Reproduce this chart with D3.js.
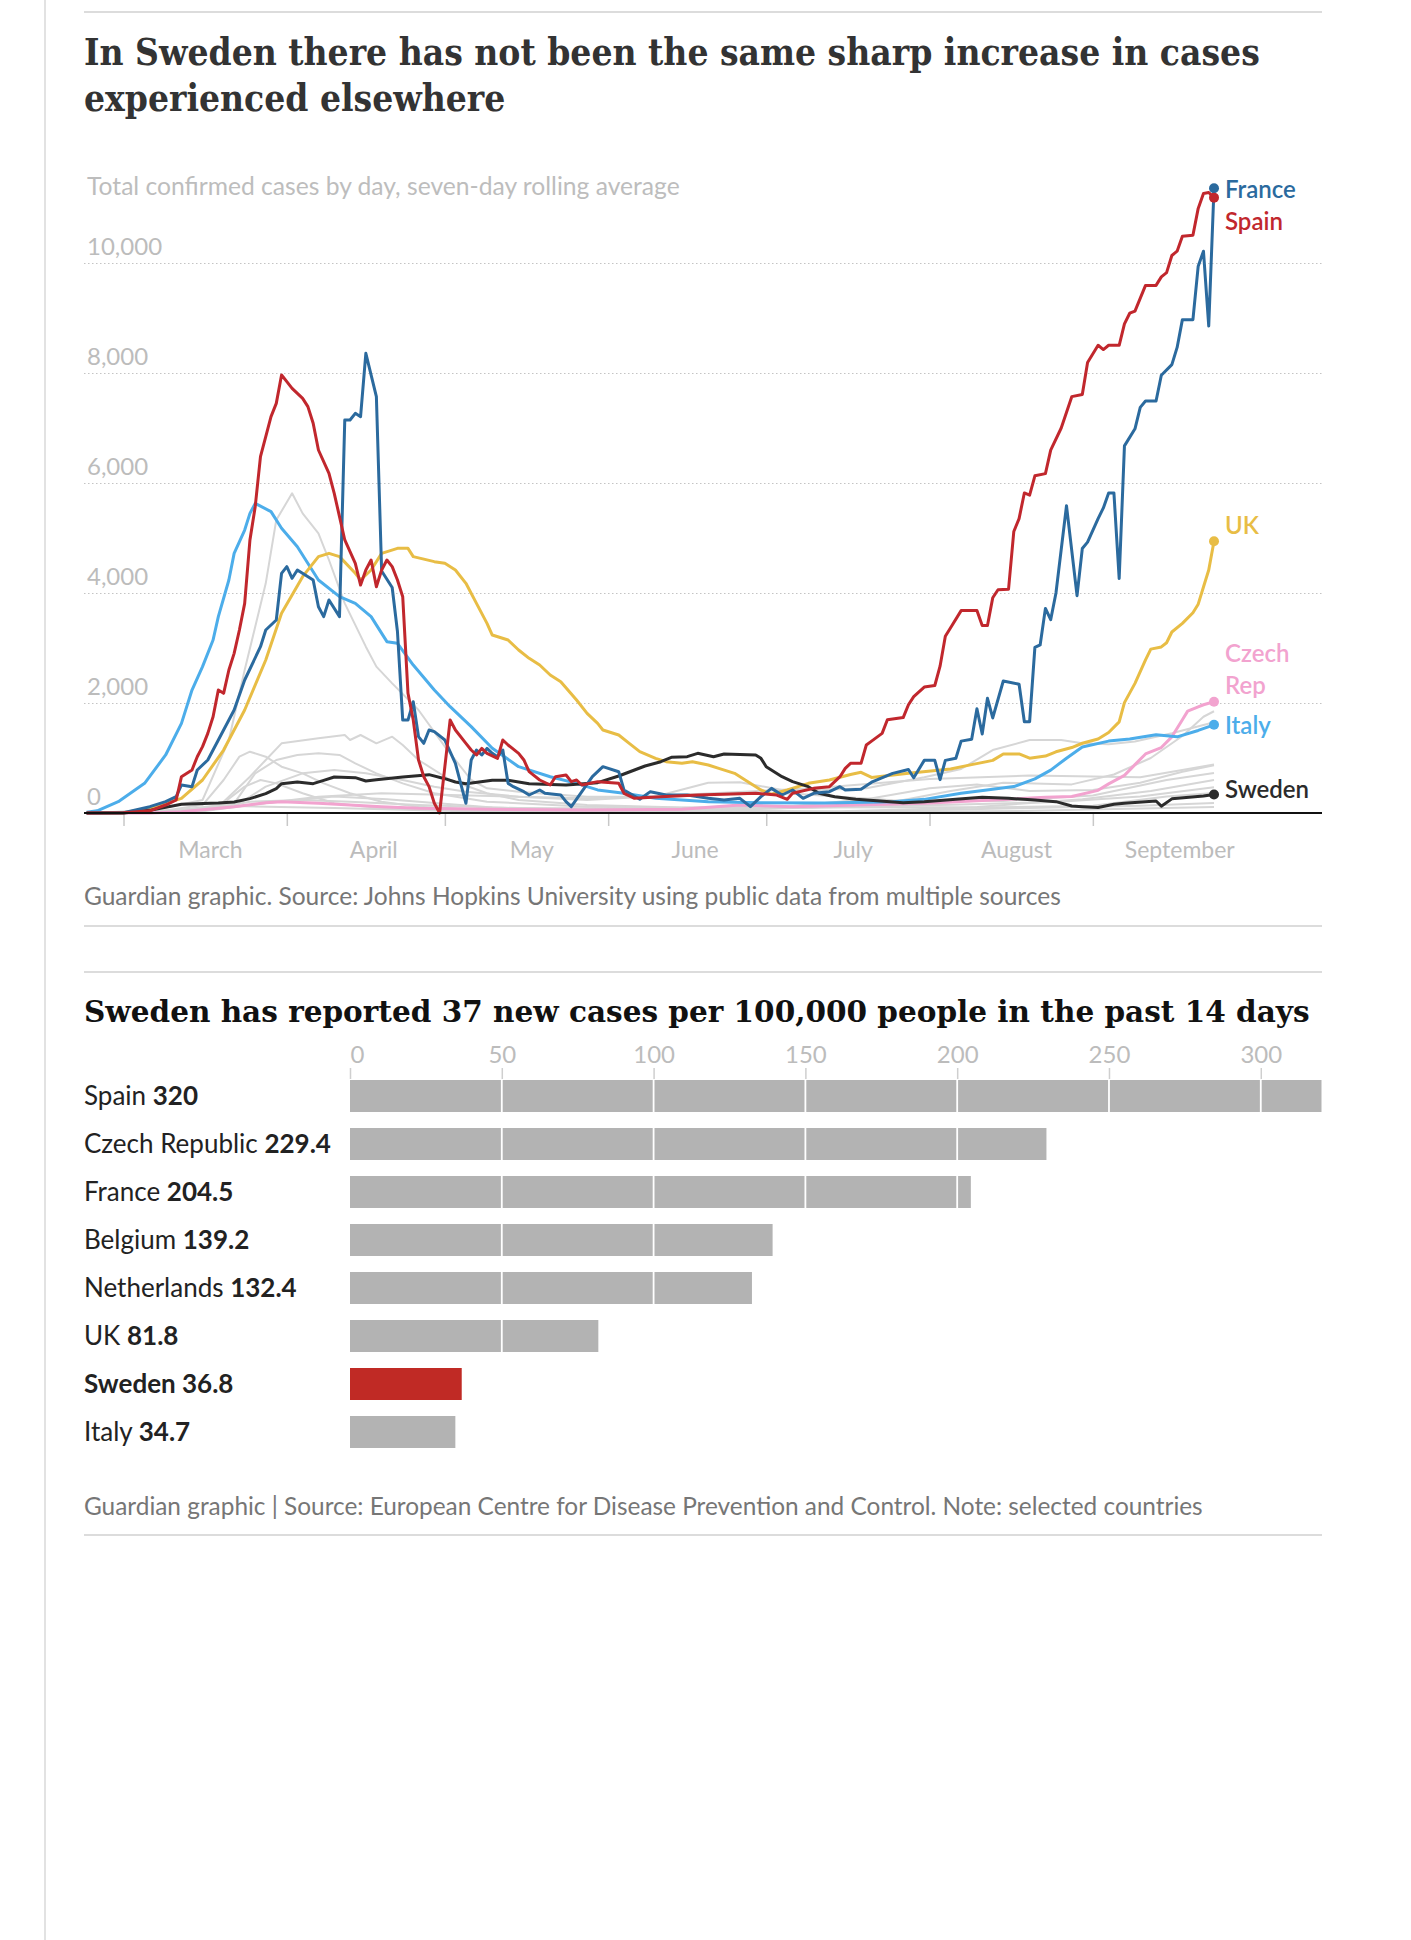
<!DOCTYPE html>
<html><head><meta charset="utf-8">
<script src="https://cdn.jsdelivr.net/npm/d3@7"></script>
<style>body{margin:0;background:#fff} svg{display:block}</style>
</head><body>
<svg id="c" width="1411" height="1940"></svg>
<script>
// ---------------- DATA ----------------
const titleLines = ["In Sweden there has not been the same sharp increase in cases", "experienced elsewhere"];
const subtitle = "Total confirmed cases by day, seven-day rolling average";
const source1 = "Guardian graphic. Source: Johns Hopkins University using public data from multiple sources";
const barTitle = "Sweden has reported 37 new cases per 100,000 people in the past 14 days";
const source2 = "Guardian graphic | Source: European Centre for Disease Prevention and Control. Note: selected countries";

const yTicks = [0, 2000, 4000, 6000, 8000, 10000];
const monthNames = ["March", "April", "May", "June", "July", "August", "September"];

const franceData = [["02-23",0],["03-01",5],["03-06",115],["03-09",206],["03-11",297],["03-12",509],["03-14",479],["03-15",782],["03-17",964],["03-19",1327],["03-22",1873],["03-24",2418],["03-27",3024],["03-28",3327],["03-30",3509],["03-31",4358],["04-01",4479],["04-02",4267],["04-03",4418],["04-06",4236],["04-07",3751],["04-08",3570],["04-09",3873],["04-11",3570],["04-12",7145],["04-13",7145],["04-14",7267],["04-15",7206],["04-16",8358],["04-18",7570],["04-19",4400],["04-21",4100],["04-22",3300],["04-23",1690],["04-24",1690],["04-25",2024],["04-26",1388],["04-27",1267],["04-28",1509],["04-29",1479],["05-01",1327],["05-03",903],["05-04",539],["05-05",176],["05-06",964],["05-07",1145],["05-08",1055],["05-09",1176],["05-10",1085],["05-11",1024],["05-12",1145],["05-13",539],["05-14",479],["05-16",388],["05-17",327],["05-19",418],["05-20",358],["05-23",327],["05-24",206],["05-25",115],["05-29",661],["05-31",842],["06-03",751],["06-04",418],["06-07",249],["06-09",388],["06-12",327],["06-16",327],["06-20",267],["06-23",236],["06-26",267],["06-28",115],["06-30",297],["07-02",448],["07-04",327],["07-06",418],["07-08",267],["07-10",358],["07-13",388],["07-15",479],["07-16",418],["07-19",430],["07-21",560],["07-25",721],["07-28",790],["07-29",640],["07-31",957],["08-02",957],["08-03",607],["08-04",957],["08-06",996],["08-07",1307],["08-09",1340],["08-10",1895],["08-11",1436],["08-12",2085],["08-13",1728],["08-15",2400],["08-18",2340],["08-19",1660],["08-20",1660],["08-21",3010],["08-22",3056],["08-23",3720],["08-24",3515],["08-25",4000],["08-27",5586],["08-29",3952],["08-30",4808],["08-31",4925],["09-02",5353],["09-03",5547],["09-04",5819],["09-05",5819],["09-06",4263],["09-07",6675],["09-09",6986],["09-10",7375],["09-11",7492],["09-13",7492],["09-14",7959],["09-16",8153],["09-17",8465],["09-18",8970],["09-20",8970],["09-21",9943],["09-22",10215],["09-23",8854],["09-24",11359]];

const spainData = [["02-23",0],["03-01",5],["03-06",40],["03-09",145],["03-11",236],["03-12",660],["03-14",782],["03-15",1024],["03-16",1206],["03-17",1448],["03-18",1751],["03-19",2236],["03-20",2176],["03-21",2600],["03-22",2903],["03-23",3327],["03-24",3812],["03-25",4964],["03-26",5570],["03-27",6479],["03-28",6842],["03-29",7206],["03-30",7448],["03-31",7964],["04-01",7842],["04-02",7721],["04-04",7539],["04-05",7388],["04-06",7085],["04-07",6600],["04-09",6176],["04-10",5812],["04-11",5388],["04-12",4964],["04-14",4539],["04-15",4145],["04-16",4418],["04-17",4600],["04-18",4115],["04-19",4418],["04-20",4600],["04-21",4479],["04-22",4236],["04-23",3933],["04-24",2176],["04-25",1691],["04-26",964],["04-27",660],["04-28",479],["04-29",176],["04-30",0],["05-01",842],["05-02",1691],["05-03",1509],["05-05",1267],["05-06",1145],["05-07",1055],["05-08",1176],["05-09",1085],["05-11",994],["05-12",1327],["05-13",1236],["05-15",1085],["05-16",964],["05-17",751],["05-19",600],["05-21",509],["05-22",660],["05-24",690],["05-25",570],["05-26",600],["05-27",509],["05-30",570],["06-03",539],["06-04",358],["06-06",267],["06-11",297],["06-18",327],["06-29",358],["07-03",327],["07-05",249],["07-06",358],["07-10",448],["07-13",479],["07-15",660],["07-16",812],["07-17",903],["07-19",903],["07-20",1236],["07-21",1307],["07-23",1448],["07-24",1696],["07-27",1735],["07-28",1968],["07-29",2115],["07-31",2290],["08-02",2318],["08-03",2669],["08-04",3213],["08-05",3369],["08-07",3680],["08-10",3680],["08-11",3408],["08-12",3408],["08-13",3913],["08-14",4060],["08-16",4069],["08-17",5119],["08-18",5353],["08-19",5819],["08-20",5780],["08-21",6131],["08-23",6170],["08-24",6597],["08-26",7000],["08-28",7570],["08-30",7609],["08-31",8192],["09-02",8504],["09-03",8426],["09-04",8504],["09-06",8504],["09-07",8892],["09-08",9087],["09-09",9126],["09-11",9593],["09-13",9593],["09-14",9748],["09-15",9826],["09-16",10137],["09-17",10215],["09-18",10487],["09-20",10503],["09-21",10993],["09-22",11265],["09-23",11281],["09-24",11188]];

const italyData = [["02-23",15],["02-25",40],["02-29",206],["03-05",539],["03-09",1055],["03-12",1630],["03-14",2236],["03-16",2661],["03-18",3145],["03-19",3570],["03-21",4236],["03-22",4721],["03-24",5145],["03-25",5448],["03-26",5630],["03-29",5479],["03-31",5176],["04-03",4842],["04-07",4236],["04-11",3933],["04-14",3812],["04-17",3570],["04-20",3115],["04-22",3085],["04-25",2690],["04-29",2236],["05-02",1933],["05-06",1570],["05-10",1176],["05-15",842],["05-21",660],["05-26",539],["05-30",420],["06-04",358],["06-10",267],["06-20",206],["06-30",188],["07-12",182],["07-25",206],["07-31",248],["08-07",358],["08-13",430],["08-17",480],["08-21",620],["08-24",780],["08-27",996],["08-30",1200],["09-04",1307],["09-08",1346],["09-13",1424],["09-17",1385],["09-21",1501],["09-24",1603]];

const ukData = [["02-23",0],["03-01",5],["03-06",85],["03-12",267],["03-16",600],["03-20",1145],["03-24",1873],["03-28",2782],["03-31",3630],["04-04",4297],["04-07",4661],["04-09",4721],["04-11",4661],["04-14",4358],["04-15",4236],["04-17",4418],["04-19",4721],["04-22",4812],["04-24",4812],["04-25",4661],["04-29",4570],["05-01",4539],["05-03",4418],["05-05",4176],["05-07",3812],["05-09",3448],["05-10",3236],["05-13",3145],["05-15",2964],["05-17",2812],["05-19",2691],["05-21",2509],["05-23",2388],["05-26",2054],["05-28",1812],["05-30",1630],["05-31",1509],["06-03",1418],["06-05",1267],["06-07",1115],["06-10",994],["06-12",933],["06-15",903],["06-17",933],["06-20",873],["06-22",812],["06-25",721],["06-27",600],["06-30",418],["07-02",340],["07-05",418],["07-09",539],["07-13",600],["07-17",700],["07-19",740],["07-21",646],["07-28",724],["08-05",801],["08-09",879],["08-13",957],["08-15",1074],["08-18",1074],["08-20",996],["08-23",1035],["08-25",1113],["08-28",1190],["08-30",1268],["09-02",1346],["09-04",1463],["09-06",1657],["09-07",2007],["09-09",2357],["09-11",2785],["09-12",2980],["09-14",3019],["09-15",3096],["09-16",3291],["09-18",3447],["09-20",3641],["09-21",3797],["09-22",4108],["09-23",4419],["09-24",4940]];

const swedenData = [["02-23",0],["03-01",2],["03-06",48],["03-12",158],["03-19",182],["03-22",200],["03-25",261],["03-28",352],["03-30",442],["03-31",533],["04-03",564],["04-06",533],["04-08",594],["04-10",655],["04-14",642],["04-16",582],["04-18",606],["04-23",655],["04-28",697],["05-01",624],["05-03",564],["05-05",533],["05-10",594],["05-13",594],["05-17",533],["05-24",509],["05-30",552],["06-03",673],["06-06",782],["06-08",855],["06-11",933],["06-13",1012],["06-16",1024],["06-18",1085],["06-21",1024],["06-23",1073],["06-29",1055],["06-30",994],["07-01",842],["07-04",661],["07-06",570],["07-09",479],["07-11",358],["07-14",297],["07-18",249],["07-22",224],["07-27",188],["07-31",206],["08-06",249],["08-11",285],["08-16",267],["08-21",236],["08-25",206],["08-28",127],["08-30",115],["09-02",101],["09-05",160],["09-07",179],["09-13",218],["09-14",124],["09-16",257],["09-22",311],["09-24",335]];

const czechData = [["02-23",0],["03-06",2],["03-12",24],["03-22",115],["03-28",188],["03-31",206],["04-07",176],["04-13",145],["04-19",115],["04-26",85],["05-09",67],["05-28",55],["06-15",70],["06-26",145],["07-06",115],["07-18",145],["07-31",176],["08-13",236],["08-23",285],["08-28",300],["09-02",412],["09-04",529],["09-07",685],["09-09",879],["09-11",1074],["09-14",1190],["09-16",1385],["09-18",1696],["09-19",1852],["09-21",1929],["09-22",1968],["09-24",2023]];

// other European countries (grey)
const germanyData = [["02-23",0],["03-05",40],["03-10",120],["03-16",236],["03-21",1327],["03-24",2600],["03-28",4176],["03-30",5327],["04-02",5812],["04-04",5448],["04-07",5085],["04-09",4600],["04-12",3812],["04-16",3024],["04-18",2661],["04-21",2357],["04-26",1873],["05-01",1206],["05-06",600],["05-09",448],["05-15",388],["05-28",297],["06-10",300],["06-20",550],["06-26",560],["07-05",400],["07-20",450],["07-31",650],["08-07",800],["08-13",1145],["08-20",1327],["08-26",1327],["08-30",1267],["09-04",1250],["09-09",1300],["09-16",1450],["09-24",1650]];
const belgiumData = [["02-23",0],["03-10",20],["03-19",115],["03-25",660],["03-28",964],["03-31",1267],["04-07",1358],["04-12",1418],["04-13",1327],["04-15",1418],["04-18",1267],["04-21",1388],["04-23",1236],["04-26",964],["05-02",600],["05-09",358],["05-15",236],["05-28",145],["06-15",100],["07-05",120],["07-20",250],["08-01",450],["08-10",520],["08-20",400],["09-01",420],["09-10",550],["09-18",750],["09-24",870]];
const netherlandsData = [["02-23",0],["03-10",30],["03-22",176],["03-26",721],["03-30",964],["04-03",1055],["04-07",1085],["04-11",1055],["04-14",903],["04-18",721],["04-23",539],["04-29",358],["05-09",206],["05-28",115],["06-20",90],["07-10",100],["07-25",200],["08-05",400],["08-15",550],["08-28",520],["09-05",700],["09-12",1000],["09-18",1400],["09-22",1750],["09-24",1850]];
const switzerlandData = [["02-23",0],["03-08",30],["03-16",145],["03-20",600],["03-23",1024],["03-25",1115],["03-28",1024],["03-31",842],["04-04",721],["04-08",539],["04-13",358],["04-19",206],["04-26",115],["05-09",55],["06-10",30],["07-10",100],["08-05",150],["08-25",200],["09-10",300],["09-24",470]];
const portugalData = [["02-23",0],["03-12",30],["03-22",115],["03-28",479],["04-04",721],["04-10",782],["04-16",721],["04-23",600],["04-29",479],["05-05",388],["05-15",297],["05-28",267],["06-15",320],["07-05",360],["07-25",230],["08-15",220],["09-01",320],["09-15",600],["09-24",727]];
const austriaData = [["02-23",0],["03-10",20],["03-19",115],["03-24",479],["03-27",600],["03-30",539],["04-04",358],["04-10",176],["04-19",85],["05-02",55],["06-10",40],["07-10",100],["08-10",110],["08-30",250],["09-12",400],["09-24",600]];
const romaniaData = [["02-23",0],["03-15",20],["03-25",145],["04-07",297],["04-19",358],["05-02",327],["05-15",297],["05-28",236],["06-15",330],["07-10",450],["08-01",620],["08-20",680],["09-10",650],["09-24",880]];
const denmarkData = [["02-23",0],["03-10",20],["03-16",48],["03-25",206],["04-04",236],["04-13",206],["04-26",145],["05-15",85],["05-28",85],["06-20",40],["07-15",30],["08-10",100],["09-01",130],["09-15",300],["09-24",364]];
const irelandData = [["02-23",0],["03-15",30],["03-25",150],["04-10",300],["04-20",250],["05-10",100],["06-10",30],["07-15",20],["08-15",80],["09-10",130],["09-24",182]];
const norwayData = [["02-23",0],["03-12",60],["03-20",130],["04-10",90],["05-10",20],["07-10",10],["08-20",40],["09-24",109]];

// bar chart
const barCountries = ["Spain", "Czech Republic", "France", "Belgium", "Netherlands", "UK", "Sweden", "Italy"];
const barValues = [320, 229.4, 204.5, 139.2, 132.4, 81.8, 36.8, 34.7];
const barTicks = [0, 50, 100, 150, 200, 250, 300];

// ---------------- DRAW ----------------
const SANS = "Lato, 'Open Sans', sans-serif";
const svg = d3.select("#c");
const parse = d3.timeParse("%Y-%m-%d");
const toPts = arr => arr.map(([md, v]) => ({date: parse("2020-" + md), value: v}));

function fit(sel, w) {
  const cur = sel.node().getComputedTextLength();
  const fs = parseFloat(sel.attr("font-size"));
  sel.attr("font-size", (fs * w / cur).toFixed(2));
  return fs * w / cur;
}

// frame lines
svg.append("line").attr("x1", 45).attr("x2", 45).attr("y1", 0).attr("y2", 1940)
  .attr("stroke", "#e2e2e2").attr("stroke-width", 2);
[12, 926, 972, 1535].forEach(yy => svg.append("line").attr("x1", 84).attr("x2", 1322)
  .attr("y1", yy).attr("y2", yy).attr("stroke", "#dcdcdc").attr("stroke-width", 2));

// title: prefer a condensed slab-like serif if available
const t1 = svg.append("text").attr("x", 84).attr("y", 65)
  .attr("font-family", "'DejaVu Serif', serif").attr("font-weight", 700)
  .attr("font-size", 40).attr("fill", "#333").text(titleLines[0]);
const wNormal = t1.node().getComputedTextLength();
t1.attr("font-stretch", "condensed");
const wCond = t1.node().getComputedTextLength();
let titleFamily = "'DejaVu Serif', serif", titleStretch = "condensed";
if (wCond > wNormal * 0.97) { // no condensed face -> use Liberation Serif
  titleFamily = "'Liberation Serif', serif"; titleStretch = "normal";
  t1.attr("font-family", titleFamily).attr("font-stretch", titleStretch);
}
const tfs = Math.min(fit(t1, 1176), 42);
t1.attr("font-size", tfs.toFixed(2));
svg.append("text").attr("x", 84).attr("y", 111)
  .attr("font-family", titleFamily).attr("font-stretch", titleStretch).attr("font-weight", 700)
  .attr("font-size", tfs.toFixed(2)).attr("fill", "#333").text(titleLines[1]);

const st = svg.append("text").attr("x", 87).attr("y", 195).attr("font-family", SANS)
  .attr("font-size", 23).attr("fill", "#bdbdbd").text(subtitle);
fit(st, 593);

// scales
const x = d3.scaleTime().domain([new Date(2020, 1, 22, 12), new Date(2020, 9, 14, 12)]).range([84, 1322]);
const y = d3.scaleLinear().domain([0, 10000]).range([813, 263]);

// y axis (gridlines + labels)
const yAxis = svg.append("g").attr("transform", "translate(84,0)")
  .call(d3.axisLeft(y).tickValues(yTicks).tickSize(-1238).tickFormat(d3.format(",")));
yAxis.select(".domain").remove();
yAxis.selectAll(".tick line").attr("stroke", "#c4c4c4").attr("stroke-dasharray", "1.5,2.5")
  .attr("stroke-width", 1.2).filter(d => d === 0).remove();
yAxis.selectAll(".tick text").attr("x", 3).attr("dy", "-9").attr("text-anchor", "start")
  .attr("font-family", SANS).attr("font-size", 24).attr("fill", "#bcbcbc");

// x axis ticks
const monthStarts = d3.range(2, 9).map(m => new Date(2020, m, 1));
const xAxis = svg.append("g").attr("transform", "translate(0,813)")
  .call(d3.axisBottom(x).tickValues(monthStarts).tickSize(13).tickFormat(""));
xAxis.select(".domain").remove();
xAxis.selectAll(".tick line").attr("stroke", "#c8c8c8").attr("stroke-width", 1.5);
svg.append("g").selectAll("text").data(monthNames).join("text")
  .attr("x", (d, i) => x(new Date(2020, i + 2, 17, 12))).attr("y", 858)
  .attr("text-anchor", "middle").attr("font-family", SANS).attr("font-size", 23)
  .attr("fill", "#bcbcbc").text(d => d);

// lines
svg.append("clipPath").attr("id", "plot").append("rect").attr("x", 84).attr("y", 100).attr("width", 1238).attr("height", 715);
const line = d3.line().x(d => x(d.date)).y(d => y(d.value));
const plot = svg.append("g").attr("clip-path", "url(#plot)");

const greys = [germanyData, belgiumData, netherlandsData, switzerlandData, portugalData, austriaData, romaniaData, denmarkData, irelandData, norwayData];
greys.forEach(g => plot.append("path").datum(toPts(g)).attr("d", line)
  .attr("fill", "none").attr("stroke", "#d6d6d6").attr("stroke-width", 2).attr("stroke-linejoin", "round"));

const series = [
  {name: "Czech Rep", data: czechData, color: "#f2a3cf", label: ["Czech", "Rep"], dy: [-48, -16]},
  {name: "Italy", data: italyData, color: "#4cadea", label: ["Italy"], dy: [1]},
  {name: "UK", data: ukData, color: "#e8bd45", label: ["UK"], dy: [-16]},
  {name: "Sweden", data: swedenData, color: "#2b2b2b", label: ["Sweden"], dy: [-5]},
  {name: "France", data: franceData, color: "#2b6a9e", label: ["France"], dy: [1]},
  {name: "Spain", data: spainData, color: "#c1272d", label: ["Spain"], dy: [24]}
];
series.forEach(s => {
  s.pts = toPts(s.data);
  plot.append("path").datum(s.pts).attr("d", line).attr("fill", "none")
    .attr("stroke", s.color).attr("stroke-width", 3).attr("stroke-linejoin", "round");
});

// baseline
svg.append("line").attr("x1", 84).attr("x2", 1322).attr("y1", y(0)).attr("y2", y(0))
  .attr("stroke", "#111").attr("stroke-width", 2);

// end dots & labels
series.forEach(s => {
  const last = s.pts[s.pts.length - 1];
  const cx = x(last.date), cy = y(last.value);
  svg.append("circle").attr("cx", cx).attr("cy", cy).attr("r", 5).attr("fill", s.color);
  s.label.forEach((l, i) => svg.append("text").attr("x", cx + 11).attr("y", cy + s.dy[i])
    .attr("dy", "0.36em").attr("font-family", SANS).attr("font-weight", 600)
    .attr("font-size", 24).attr("fill", s.color).text(l));
});

// source 1
const s1 = svg.append("text").attr("x", 84).attr("y", 905).attr("font-family", SANS)
  .attr("font-size", 21).attr("fill", "#767676").text(source1);
fit(s1, 977);

// ---------------- BAR CHART ----------------
const bt = svg.append("text").attr("x", 84).attr("y", 1022)
  .attr("font-family", "'DejaVu Serif', serif").attr("font-weight", 700)
  .attr("font-size", 28).attr("fill", "#111").text(barTitle);
fit(bt, 1226);

const xb = d3.scaleLinear().domain([0, 320]).range([350, 1321.5]);
const yb = d3.scaleBand().domain(barCountries).range([1072, 1456]).paddingInner(1 / 3).paddingOuter(1 / 6);
const bars = barCountries.map((c, i) => ({c, v: barValues[i]}));

const bAxis = svg.append("g").attr("transform", "translate(0,1079)")
  .call(d3.axisTop(xb).tickValues(barTicks).tickSize(11).tickPadding(5));
bAxis.select(".domain").remove();
bAxis.selectAll(".tick line").attr("stroke", "#cfcfcf").attr("stroke-width", 1.5);
bAxis.selectAll(".tick text").attr("font-family", SANS).attr("font-size", 24).attr("fill", "#bcbcbc")
  .attr("text-anchor", d => d === 0 ? "start" : "middle");

svg.append("g").selectAll("rect").data(bars).join("rect")
  .attr("x", xb(0)).attr("y", d => yb(d.c)).attr("width", d => xb(d.v) - xb(0))
  .attr("height", yb.bandwidth()).attr("fill", d => d.c === "Sweden" ? "#c02a25" : "#b3b3b3");

svg.append("g").selectAll("line").data(barTicks.filter(t => t > 0)).join("line")
  .attr("x1", d => xb(d)).attr("x2", d => xb(d)).attr("y1", 1079).attr("y2", 1450)
  .attr("stroke", "#fff").attr("stroke-width", 1.8);

const fmt = v => (v % 1 === 0 ? String(v) : v.toFixed(1));
const labels = svg.append("g").selectAll("text").data(bars).join("text")
  .attr("x", 84).attr("y", d => yb(d.c) + yb.bandwidth() / 2).attr("dy", "0.36em")
  .attr("font-family", SANS).attr("font-size", 24).attr("fill", "#222");
labels.append("tspan").attr("font-weight", d => d.c === "Sweden" ? 700 : 400).text(d => d.c + " ");
labels.append("tspan").attr("font-weight", 700).text(d => fmt(d.v));
const czechLabel = labels.filter(d => d.c === "Czech Republic");
const lfs = 24 * 247 / czechLabel.node().getComputedTextLength();
labels.attr("font-size", lfs.toFixed(2));

const s2 = svg.append("text").attr("x", 84).attr("y", 1515).attr("font-family", SANS)
  .attr("font-size", 21).attr("fill", "#767676").text(source2);
fit(s2, 1119);
</script>
</body></html>
